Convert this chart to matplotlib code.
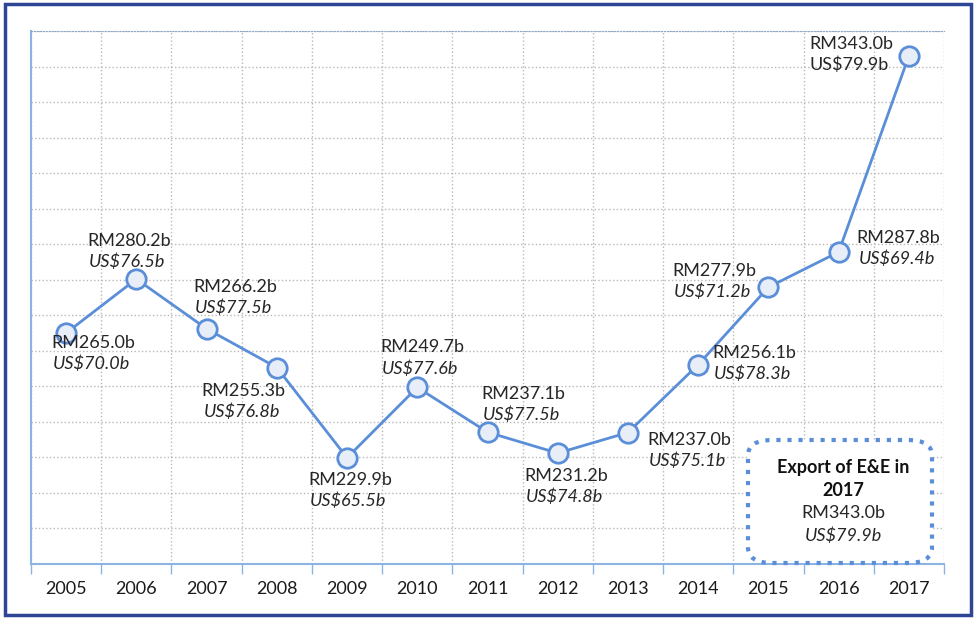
import matplotlib.pyplot as plt
import matplotlib.patches as patches

# Data
years = ['2005', '2006', '2007', '2008', '2009', '2010', '2011',
         '2012', '2013', '2014', '2015', '2016', '2017']
rm_values = [265.0, 280.2, 266.2, 255.3, 229.9, 249.7, 237.1,
             231.2, 237.0, 256.1, 277.9, 287.8, 343.0]
usd_values = [70.0, 76.5, 77.5, 76.8, 65.5, 77.6, 77.5,
              74.8, 75.1, 78.3, 71.2, 69.4, 79.9]

# label offsets in pixels (dx, dy) from each point
offsets = [(27, -20), (-7, 28), (29, 32), (-33, -33), (3, -32), (5, 30),
           (36, 28), (9, -33), (61, -17), (56, 2), (-54, 6), (60, 4), (-58, 2)]

plt.rcParams['font.family'] = ['Lato', 'DejaVu Sans']

fig = plt.figure(figsize=(9.76, 6.19), dpi=100)
ax = fig.add_axes([31 / 976, 55 / 619, 913 / 976, 533 / 619])

line_color = '#5a8ed8'
x = list(range(len(years)))
ax.plot(x, rm_values, color=line_color, linewidth=2, marker='o',
        markersize=14, markerfacecolor='#e8eef8', markeredgecolor=line_color,
        markeredgewidth=2, zorder=5)

for i, (rm, us) in enumerate(zip(rm_values, usd_values)):
    dx, dy = offsets[i]
    ax.annotate(f'RM{rm:.1f}b', (i, rm), xytext=(dx, dy + 10),
                textcoords='offset pixels', ha='center', va='center',
                fontsize=13, color='#262626', zorder=6)
    ax.annotate(f'US${us:.1f}b', (i, rm), xytext=(dx - 2, dy - 11),
                textcoords='offset pixels', ha='center', va='center',
                fontsize=13, color='#262626',
                style='normal' if i == len(years) - 1 else 'italic', zorder=6)

ax.set_xlim(-0.5, len(years) - 0.5)
ax.set_ylim(200, 350)
ax.set_xticks(x)
ax.set_xticklabels(years, fontsize=13, color='#1a1a1a')
ax.set_xticks([i - 0.5 for i in range(len(years) + 1)], minor=True)
ax.set_yticks(range(200, 351, 10))
ax.set_yticklabels([])
ax.tick_params(axis='x', which='major', length=0, pad=12)
ax.tick_params(axis='x', which='minor', length=7, color='#8db3e2', width=1)
ax.tick_params(axis='y', length=0)

ax.grid(True, which='minor', axis='x', color='#b8b8b8', linestyle=':', linewidth=1)
ax.grid(True, which='major', axis='y', color='#b8b8b8', linestyle=':', linewidth=1)

for side in ['left', 'bottom']:
    ax.spines[side].set_color('#8db3e2')
    ax.spines[side].set_linewidth(1.5)
ax.spines['right'].set_visible(False)
ax.spines['top'].set_color('#8fa8c8')
ax.spines['top'].set_linestyle(':')

# summary box
box = patches.FancyBboxPatch((748 / 976, 56 / 619), 184 / 976, 123 / 619,
                             boxstyle='round,pad=0,rounding_size=0.025',
                             transform=fig.transFigure, fill=True,
                             facecolor='white', edgecolor=line_color,
                             linestyle=':', linewidth=3, zorder=10)
fig.patches.append(box)
fig.text(843 / 976, 1 - 467 / 619, 'Export of E&E in', ha='center', va='center',
         fontsize=13, fontweight='bold', color='#111111', zorder=11)
fig.text(843 / 976, 1 - 490 / 619, '2017', ha='center', va='center',
         fontsize=13, fontweight='bold', color='#111111', zorder=11)
fig.text(843 / 976, 1 - 513 / 619, 'RM343.0b', ha='center', va='center',
         fontsize=13, color='#262626', zorder=11)
fig.text(843 / 976, 1 - 536 / 619, 'US$79.9b', ha='center', va='center',
         fontsize=13, style='italic', color='#262626', zorder=11)

# outer frame
frame = patches.Rectangle((5 / 976, 4 / 619), 966 / 976, 611 / 619,
                          transform=fig.transFigure, fill=False,
                          edgecolor='#2e4596', linewidth=2.5)
fig.patches.append(frame)

plt.savefig('out.png', dpi=100)
plt.close()
